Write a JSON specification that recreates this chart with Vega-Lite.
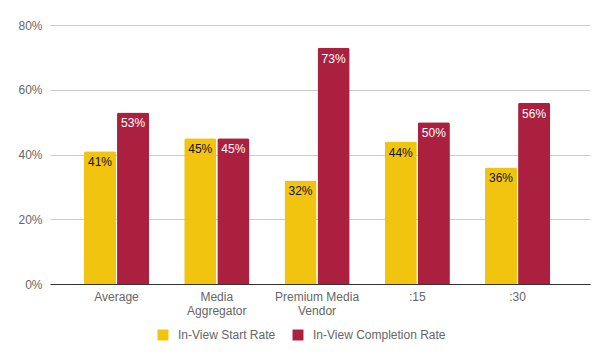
{
  "$schema": "https://vega.github.io/schema/vega-lite/v6.json",
  "width": 540,
  "height": 259,
  "autosize": {"type": "none"},
  "padding": {"left": 50, "top": 25, "right": 14, "bottom": 78},
  "background": "white",
  "config": {
    "font": "Liberation Sans",
    "view": {"stroke": null}
  },
  "data": {
    "values": [
      {"cat": "Average", "series": "In-View Start Rate", "v": 0.41},
      {"cat": "Average", "series": "In-View Completion Rate", "v": 0.53},
      {"cat": "Media Aggregator", "series": "In-View Start Rate", "v": 0.45},
      {"cat": "Media Aggregator", "series": "In-View Completion Rate", "v": 0.45},
      {"cat": "Premium Media Vendor", "series": "In-View Start Rate", "v": 0.32},
      {"cat": "Premium Media Vendor", "series": "In-View Completion Rate", "v": 0.73},
      {"cat": ":15", "series": "In-View Start Rate", "v": 0.44},
      {"cat": ":15", "series": "In-View Completion Rate", "v": 0.50},
      {"cat": ":30", "series": "In-View Start Rate", "v": 0.36},
      {"cat": ":30", "series": "In-View Completion Rate", "v": 0.56}
    ]
  },
  "encoding": {
    "x": {
      "field": "cat",
      "type": "nominal",
      "sort": null,
      "scale": {"paddingInner": 0.35, "paddingOuter": 0.368, "align": 0.46},
      "axis": {
        "title": null,
        "labelAngle": 0,
        "labelColor": "#666666",
        "labelFontSize": 12,
        "labelPadding": 7,
        "ticks": false,
        "domainColor": "#333333",
        "domainWidth": 1,
        "labelExpr": "datum.value == 'Media Aggregator' ? ['Media','Aggregator'] : datum.value == 'Premium Media Vendor' ? ['Premium Media','Vendor'] : datum.value"
      }
    },
    "xOffset": {
      "field": "series",
      "type": "nominal",
      "sort": ["In-View Start Rate", "In-View Completion Rate"],
      "scale": {"paddingInner": 0.03}
    },
    "y": {
      "field": "v",
      "type": "quantitative",
      "scale": {"domain": [0, 0.8], "nice": false},
      "axis": {
        "title": null,
        "format": ".0%",
        "values": [0, 0.2, 0.4, 0.6, 0.8],
        "labelOverlap": false,
        "domain": false,
        "ticks": false,
        "labelColor": "#666666",
        "labelFontSize": 12,
        "labelPadding": 8,
        "gridColor": "#cccccc"
      }
    }
  },
  "layer": [
    {
      "mark": {"type": "bar", "cornerRadiusTopLeft": 2, "cornerRadiusTopRight": 2},
      "encoding": {
        "color": {
          "field": "series",
          "type": "nominal",
          "sort": ["In-View Start Rate", "In-View Completion Rate"],
          "scale": {"domain": ["In-View Start Rate", "In-View Completion Rate"], "range": ["#F1C40F", "#AB1F3F"]},
          "legend": {
            "title": null,
            "orient": "none",
            "direction": "horizontal",
            "legendX": 107,
            "legendY": 304,
            "symbolType": "square",
            "symbolSize": 120,
            "symbolStrokeWidth": 0,
            "labelColor": "#666666",
            "labelFontSize": 12,
            "columnPadding": 16,
            "labelOffset": 9
          }
        }
      }
    },
    {
      "transform": [{"filter": "datum.series == 'In-View Start Rate'"}],
      "mark": {"type": "text", "baseline": "top", "dy": 6, "fontSize": 12, "color": "#111111"},
      "encoding": {"text": {"field": "v", "format": ".0%"}}
    },
    {
      "transform": [{"filter": "datum.series == 'In-View Completion Rate'"}],
      "mark": {"type": "text", "baseline": "top", "dy": 6, "fontSize": 12, "color": "#ffffff"},
      "encoding": {"text": {"field": "v", "format": ".0%"}}
    }
  ]
}
